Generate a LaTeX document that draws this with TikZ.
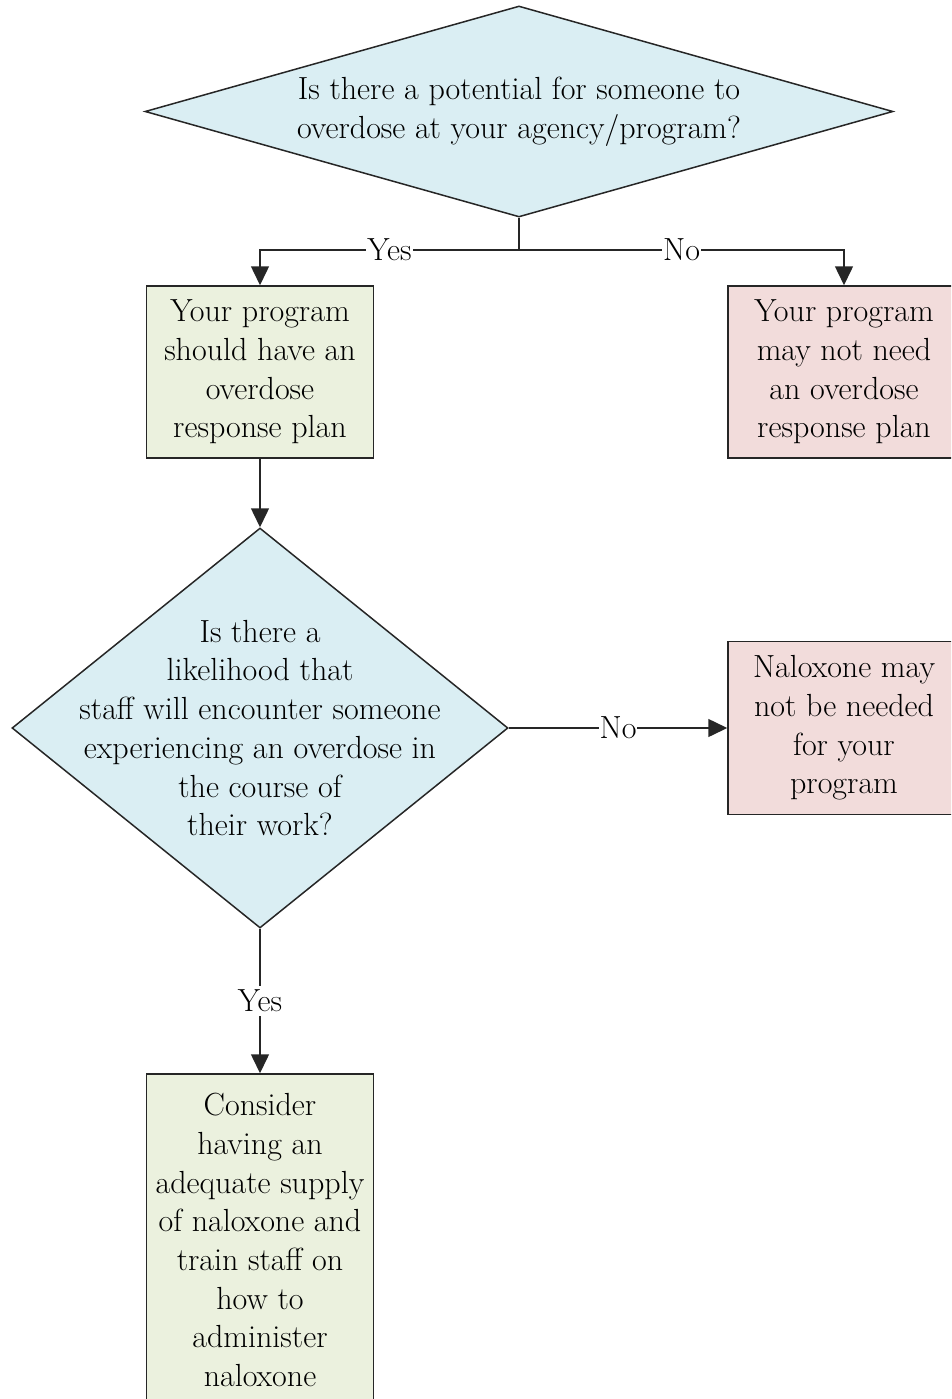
\documentclass[tikz,border=0pt]{standalone}
\usetikzlibrary{shapes.geometric,arrows.meta}
\definecolor{qblue}{HTML}{DAEEF3}
\definecolor{ygreen}{HTML}{EBF1DE}
\definecolor{npink}{HTML}{F2DCDB}
\definecolor{edge}{HTML}{262626}
\begin{document}
\begin{tikzpicture}[x=1pt,y=-1pt,
  every node/.style={font=\fontsize{32}{38.7}\selectfont},
  dia/.style={diamond, draw=edge, line width=1.5pt, inner sep=0pt},
  txt/.style={align=center, inner sep=0pt},
  box/.style={rectangle, draw=edge, line width=1.5pt, align=center, inner sep=0pt},
  yesbox/.style={box, fill=ygreen},
  nobox/.style={box, fill=npink},
  conn/.style={draw=edge, line width=1.5pt},
  arr/.style={conn, -{Triangle[width=18pt,length=19pt]}},
  lab/.style={fill=white, inner sep=1pt}
]
\useasboundingbox (0,0) rectangle (951,1399);
\clip (0,0) rectangle (951,1399);
\node[dia, fill=qblue, minimum width=748, minimum height=211] (d1) at (519,111.5) {};
\node[txt] (t1) at (d1.center) {Is there a potential for someone to\\overdose at your agency/program?};
\node[yesbox, minimum width=227, minimum height=172] (b1) at (260,372) {Your program\\should have an\\overdose\\response plan};
\node[nobox, minimum width=232, minimum height=172] (b2) at (844,372) {Your program\\may not need\\an overdose\\response plan};
\node[dia, fill=qblue, minimum width=496, minimum height=400] (d2) at (260,728) {};
\node[txt] (t2) at (d2.center) {Is there a\\likelihood that\\staff will encounter someone\\experiencing an overdose in\\the course of\\their work?};
\node[nobox, minimum width=232, minimum height=173] (b3) at (844,728) {Naloxone may\\not be needed\\for your\\program};
\node[yesbox, minimum width=227, minimum height=332] (b4) at (260,1240) {Consider\\having an\\adequate supply\\of naloxone and\\train staff on\\how to\\administer\\naloxone};
\coordinate (j1) at (519,250);
\draw[conn] (d1.south) -- (j1);
\draw[arr] (j1) -| node[lab, pos=0.25] {Yes} (b1.north);
\draw[arr] (j1) -| node[lab, pos=0.25] {No} (b2.north);
\draw[arr] (b1.south) -- (d2.north);
\draw[arr] (d2.east) -- node[lab] {No} (b3.west);
\draw[arr] (d2.south) -- node[lab, inner ysep=4pt] {Yes} (b4.north);
\end{tikzpicture}
\end{document}
